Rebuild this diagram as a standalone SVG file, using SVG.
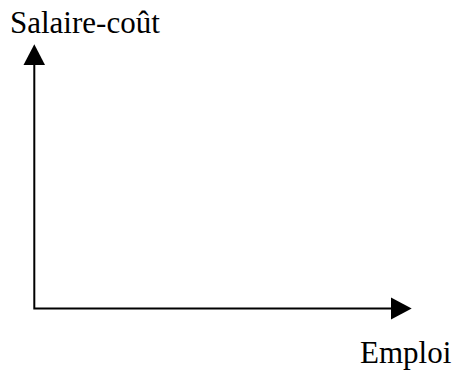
<svg xmlns="http://www.w3.org/2000/svg" width="454" height="370" viewBox="0 0 454 370">
<style>
.axis{stroke:#000;stroke-width:2;fill:none}
.head{fill:#000}
.lbl{font-family:"Liberation Serif","Times New Roman",serif;font-size:31px;fill:#000}
</style>
<rect width="454" height="370" fill="#fff"/>
<g id="connectors">
<path class="axis" d="M34.3,64 V308.5 H392"/>
<polygon class="head" points="34.3,44.3 23.5,65 45,65"/>
<polygon class="head" points="411.7,308.5 391,297.5 391,319.5"/>
</g>
<g id="label-y"><text class="lbl" x="10" y="33">Salaire-coût</text></g>
<g id="label-x"><text class="lbl" x="360" y="363">Emploi</text></g>
</svg>
